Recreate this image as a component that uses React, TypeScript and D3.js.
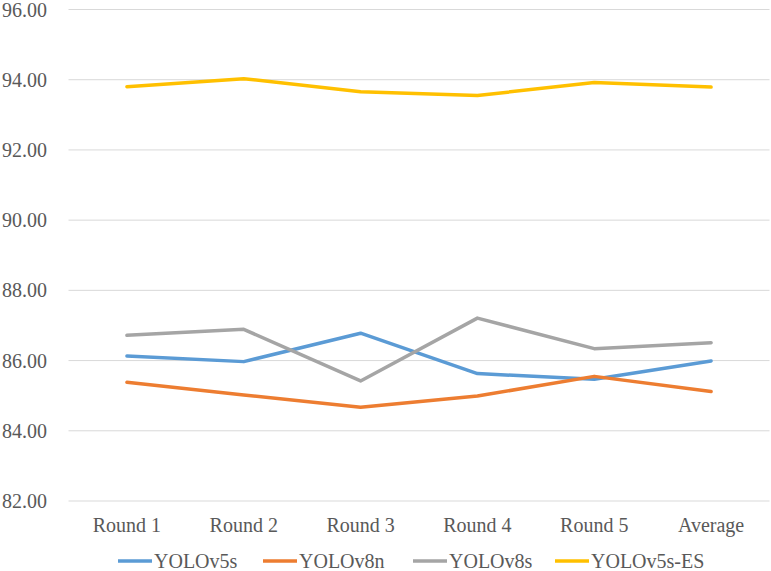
import React, { useEffect, useRef } from 'react';
import * as d3 from 'd3';

const categories = ['Round 1', 'Round 2', 'Round 3', 'Round 4', 'Round 5', 'Average'];
const yolov5s = [86.13, 85.97, 86.78, 85.63, 85.47, 85.99];
const yolov8n = [85.38, 85.02, 84.67, 84.99, 85.55, 85.12];
const yolov8s = [86.72, 86.89, 85.42, 87.21, 86.34, 86.51];
const yolov5sES = [93.80, 94.03, 93.66, 93.55, 93.92, 93.79];
const yTicks = [82, 84, 86, 88, 90, 92, 94, 96];

const seriesNames = ['YOLOv5s', 'YOLOv8n', 'YOLOv8s', 'YOLOv5s-ES'];
const seriesValues = [yolov5s, yolov8n, yolov8s, yolov5sES];
const colors = ['#5B9BD5', '#ED7D31', '#A5A5A5', '#FFC000'];

const App: React.FC = () => {
  const svgRef = useRef<SVGSVGElement>(null);

  useEffect(() => {
    if (!svgRef.current) return;
    const svg = d3.select(svgRef.current);
    svg.selectAll('*').remove();

    const left = 68.5;
    const right = 769.5;
    const font = '"Liberation Serif", "DejaVu Serif", serif';

    const x = d3.scaleBand<string>().domain(categories).range([left, right]);
    const y = d3.scaleLinear().domain([82, 96]).range([501, 9.5]);

    // gridlines
    svg.append('g')
      .selectAll('line')
      .data(yTicks)
      .join('line')
      .attr('x1', left)
      .attr('x2', right)
      .attr('y1', d => y(d))
      .attr('y2', d => y(d))
      .attr('stroke', '#D9D9D9')
      .attr('stroke-width', 1);

    // y labels
    svg.append('g')
      .selectAll('text')
      .data(yTicks)
      .join('text')
      .attr('x', 47)
      .attr('y', d => y(d))
      .attr('dy', '0.35em')
      .attr('text-anchor', 'end')
      .style('font-family', font)
      .style('font-size', '20px')
      .attr('fill', '#595959')
      .text(d => d.toFixed(2));

    // x labels
    svg.append('g')
      .selectAll('text')
      .data(categories)
      .join('text')
      .attr('x', d => (x(d) ?? 0) + x.bandwidth() / 2)
      .attr('y', 532)
      .attr('text-anchor', 'middle')
      .style('font-family', font)
      .style('font-size', '20px')
      .attr('fill', '#595959')
      .text(d => d);

    const line = d3.line<number>()
      .x((_, i) => (x(categories[i]) ?? 0) + x.bandwidth() / 2)
      .y(d => y(d));

    seriesValues.forEach((vals, i) => {
      svg.append('path')
        .datum(vals)
        .attr('fill', 'none')
        .attr('stroke', colors[i])
        .attr('stroke-width', 3.5)
        .attr('stroke-linejoin', 'round')
        .attr('stroke-linecap', 'round')
        .attr('d', line);
    });

    // legend
    const legendX = [118, 263, 413, 555];
    const legend = svg.append('g');
    seriesNames.forEach((name, i) => {
      const g = legend.append('g').attr('transform', `translate(${legendX[i]},561)`);
      g.append('line')
        .attr('x1', 0)
        .attr('x2', 34)
        .attr('stroke', colors[i])
        .attr('stroke-width', 3.5);
      g.append('text')
        .attr('x', 36)
        .attr('dy', '0.35em')
        .style('font-family', font)
        .style('font-size', '20px')
        .attr('fill', '#595959')
        .text(name);
    });
  }, []);

  return (
    <svg
      ref={svgRef}
      width={771}
      height={571}
      style={{ position: 'absolute', left: 0, top: 0, background: '#fff' }}
    />
  );
};

export default App;
